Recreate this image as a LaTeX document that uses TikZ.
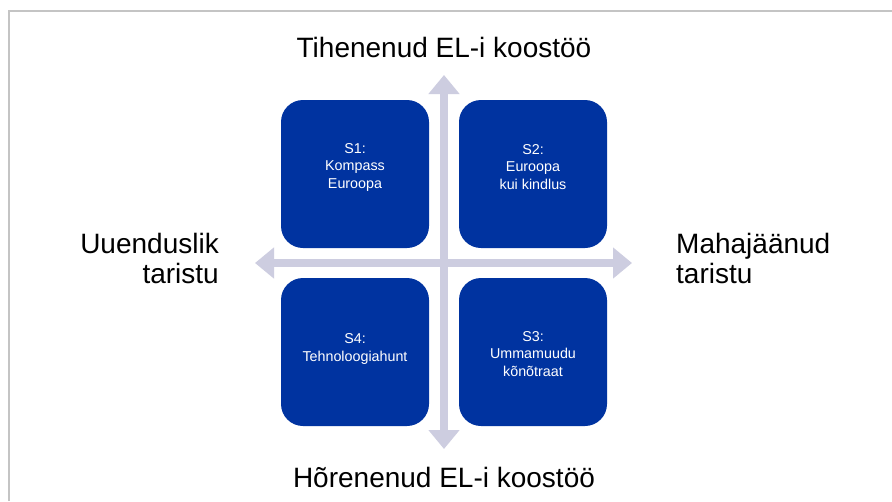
\documentclass[tikz,border=0pt]{standalone}
\usepackage{fontspec}
\setmainfont{Liberation Sans}
\usetikzlibrary{arrows.meta}
\definecolor{boxblue}{HTML}{0033A0}
\definecolor{axisgray}{HTML}{CDCDE0}
\definecolor{framegray}{HTML}{C4C4C4}
\begin{document}
\begin{tikzpicture}[x=1pt,y=-1pt,
  quad/.style={draw=none,fill=boxblue,rounded corners=22pt,minimum width=148pt,minimum height=148pt,inner sep=0pt},
  quadtext/.style={text=white,align=center,font=\fontsize{14.3}{17.5}\selectfont,inner sep=0pt},
  axis/.style={draw=axisgray,line width=8pt,{Triangle[width=30pt,length=19pt]}-{Triangle[width=30pt,length=19pt]}},
  biglabel/.style={font=\fontsize{28}{30}\selectfont,inner sep=0pt}]
\useasboundingbox (0,0) rectangle (892,501);
\fill[white] (0,0) rectangle (892,501);
\draw[framegray,line width=1.5pt] (9,501) -- (9,11) -- (892,11);
% axes
\coordinate (L) at (255,263);
\coordinate (R) at (632,263);
\coordinate (T) at (444,75);
\coordinate (B) at (444,449);
\draw[axis] (L) -- (R);
\draw[axis] (T) -- (B);
% boxes
\node[quad] (s1) at (355,174) {};
\node[quad] (s2) at (533,174) {};
\node[quad] (s4) at (355,352) {};
\node[quad] (s3) at (533,352) {};
\node[quadtext] (t1) at (355,167) {S1:\\Kompass\\Euroopa};
\node[quadtext] (t2) at (533,167) {S2:\\Euroopa\\kui kindlus};
\node[quadtext] (t4) at (355,349) {S4:\\Tehnoloogiahunt};
\node[quadtext] (t3) at (533,354) {S3:\\Ummamuudu\\kõnõtraat};
% labels
\node[biglabel] (top) at (444,47) {Tihenenud EL-i koostöö};
\node[biglabel] (bot) at (444,477) {Hõrenenud EL-i koostöö};
\node[biglabel,anchor=east,align=right] (left) at (219,258) {Uuenduslik\\taristu};
\node[biglabel,anchor=west,align=left] (right) at (676,258) {Mahajäänud\\taristu};
\end{tikzpicture}
\end{document}
